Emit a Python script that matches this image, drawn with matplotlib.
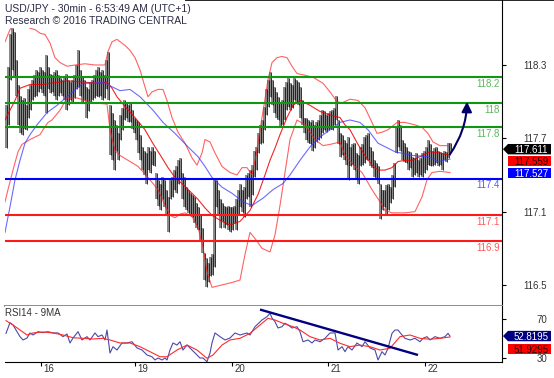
import numpy as np
import matplotlib
matplotlib.use("Agg")
import matplotlib.pyplot as plt
from matplotlib.patches import Polygon, Rectangle
from matplotlib.transforms import IdentityTransform

# 30min bars, high/low
highs = [117.97, 118.28, 118.55, 118.60, 118.57, 118.34, 118.14, 118.05, 118.01, 118.03,
         117.97, 118.10, 118.14, 118.18, 118.22, 118.26, 118.24, 118.28, 118.26, 118.24,
         118.38, 118.28, 118.23, 118.22, 118.24, 118.26, 118.22, 118.19, 118.18, 118.21,
         118.23, 118.18, 118.16, 118.18, 118.22, 118.30, 118.42, 118.26, 118.20, 118.18,
         118.12, 118.10, 118.16, 118.18, 118.22, 118.26, 118.28, 118.24, 118.26, 118.22,
         118.34, 118.41, 117.97, 117.91, 117.85, 117.81, 117.74, 117.89, 117.95, 118.01,
         118.00, 117.97, 117.99, 117.93, 117.87, 117.85, 117.83, 117.73, 117.63, 117.60,
         117.58, 117.63, 117.60, 117.63, 117.60, 117.42, 117.36, 117.33, 117.38, 117.36,
         117.28, 117.22, 117.36, 117.38, 117.44, 117.47, 117.52, 117.54, 117.42, 117.38,
         117.30, 117.28, 117.25, 117.24, 117.22, 117.17, 117.14, 117.07, 116.97, 116.76,
         116.72, 116.68, 116.73, 116.75, 117.36, 117.36, 117.28, 117.20, 117.17, 117.15,
         117.14, 117.15, 117.14, 117.14, 117.15, 117.20, 117.28, 117.33, 117.28, 117.30,
         117.40, 117.42, 117.44, 117.48, 117.60, 117.63, 117.74, 117.81, 117.85, 117.96,
         118.10, 118.18, 118.24, 118.18, 118.12, 118.08, 118.04, 117.99, 118.01, 118.12,
         118.16, 118.19, 118.15, 118.14, 118.19, 118.18, 118.16, 118.12, 118.01, 117.87,
         117.87, 117.85, 117.83, 117.85, 117.81, 117.83, 117.85, 117.89, 117.93, 117.92,
         117.89, 117.91, 117.92, 117.93, 117.95, 118.05, 117.85, 117.74, 117.73, 117.69,
         117.66, 117.71, 117.63, 117.65, 117.66, 117.58, 117.56, 117.63, 117.65, 117.71,
         117.73, 117.74, 117.63, 117.60, 117.52, 117.50, 117.47, 117.33, 117.28, 117.28,
         117.32, 117.33, 117.30, 117.40, 117.50, 117.79, 117.85, 117.81, 117.69, 117.66,
         117.63, 117.60, 117.59, 117.55, 117.54, 117.58, 117.52, 117.54, 117.58, 117.60,
         117.63, 117.69, 117.65, 117.60, 117.62, 117.63, 117.60, 117.59, 117.58, 117.60,
         117.59, 117.66, 117.66]
lows = [117.62, 117.81, 118.18, 118.26, 118.20, 118.05, 117.81, 117.74, 117.73, 117.78,
        117.77, 117.87, 117.93, 118.01, 118.04, 118.05, 118.08, 118.10, 118.07, 118.05,
        117.91, 118.10, 118.07, 118.08, 118.05, 118.01, 118.05, 118.07, 118.05, 118.01,
        117.93, 117.97, 118.01, 117.99, 118.03, 118.10, 118.12, 118.05, 117.99, 118.01,
        117.87, 117.92, 118.00, 118.01, 118.03, 118.05, 118.04, 118.05, 118.01, 118.03,
        118.10, 118.01, 117.56, 117.52, 117.44, 117.60, 117.52, 117.69, 117.77, 117.85,
        117.87, 117.83, 117.83, 117.78, 117.74, 117.69, 117.58, 117.52, 117.44, 117.40,
        117.33, 117.44, 117.42, 117.48, 117.47, 117.20, 117.15, 117.11, 117.20, 117.14,
        117.07, 116.93, 117.20, 117.22, 117.28, 117.25, 117.33, 117.36, 117.20, 117.14,
        117.11, 117.09, 117.07, 117.06, 117.01, 116.97, 116.95, 116.87, 116.76, 116.54,
        116.48, 116.52, 116.57, 116.58, 116.65, 117.14, 117.07, 116.97, 117.02, 116.97,
        116.99, 116.95, 116.93, 116.95, 117.01, 116.95, 117.07, 117.14, 117.10, 117.06,
        117.20, 117.22, 117.14, 117.24, 117.38, 117.44, 117.58, 117.65, 117.66, 117.77,
        117.89, 117.96, 118.04, 117.97, 117.91, 117.87, 117.85, 117.79, 117.81, 117.85,
        117.93, 117.96, 117.93, 117.95, 118.01, 117.99, 117.97, 117.87, 117.81, 117.74,
        117.69, 117.66, 117.65, 117.60, 117.62, 117.67, 117.69, 117.70, 117.74, 117.77,
        117.75, 117.77, 117.78, 117.77, 117.81, 117.85, 117.65, 117.55, 117.56, 117.52,
        117.48, 117.36, 117.47, 117.48, 117.44, 117.36, 117.33, 117.47, 117.48, 117.50,
        117.52, 117.52, 117.47, 117.46, 117.38, 117.36, 117.33, 117.04, 117.11, 117.14,
        117.07, 117.11, 117.17, 117.20, 117.30, 117.58, 117.63, 117.60, 117.52, 117.51,
        117.50, 117.44, 117.46, 117.38, 117.40, 117.42, 117.38, 117.40, 117.38, 117.42,
        117.44, 117.48, 117.47, 117.47, 117.48, 117.50, 117.47, 117.48, 117.44, 117.52,
        117.51, 117.54, 117.59]

# bollinger bands and moving average, sampled at bar index
up_x = [-0.5, 2, 4.5, 7, 9.5, 12, 14.5, 17, 19.5, 22, 24.5, 27, 30.5, 34.5, 39.5, 44.5, 49.5, 51, 53, 55.5,
        59.5, 62, 64.5, 67, 69.5, 71, 73, 76, 78.5, 80.5, 83, 86, 89.5, 93, 95.5, 98, 99.5, 102, 104.5, 108,
        112, 115.5, 118, 120.5, 123, 125, 127, 129, 131, 133, 135.5, 138, 140.5, 143, 145.5, 148.5, 153.5,
        158.5, 162, 165.5, 168, 172, 176, 179.5, 183, 185.5, 188, 191, 195.5, 199.5, 204.5, 208, 211, 213.5,
        217, 222]
up_v = [118.49, 118.59, 118.65, 118.68, 118.67, 118.60, 118.59, 118.56, 118.55, 118.48,
        118.36, 118.32, 118.29, 118.30, 118.31, 118.30, 118.30, 118.41, 118.49, 118.51,
        118.46, 118.42, 118.36, 118.26, 118.12, 118.04, 118.08, 118.10, 118.10, 118.01,
        117.87, 117.75, 117.66, 117.54, 117.48, 117.58, 117.69, 117.67, 117.58, 117.47,
        117.42, 117.40, 117.46, 117.46, 117.40, 117.56, 117.77, 117.97, 118.18, 118.32,
        118.36, 118.37, 118.36, 118.29, 118.23, 118.22, 118.20, 118.15, 118.08, 118.00,
        117.99, 118.02, 118.01, 117.95, 117.83, 117.74, 117.75, 117.77, 117.83, 117.83,
        117.81, 117.79, 117.74, 117.67, 117.64, 117.64]
mid_x = [-0.5, 2, 4.5, 7, 12, 18.5, 22, 27, 30.5, 38.5, 47, 50.5, 53, 55.5, 59.5, 64.5, 69.5, 73, 78, 81,
         84.5, 88, 93, 96, 99.5, 103, 108, 112, 117, 122, 126, 129.5, 132, 134.5, 137, 140.5, 143.5, 147,
         152, 157, 162, 167, 169.5, 172, 176, 179.5, 183, 186, 189.5, 193, 196, 199.5, 203, 207, 212, 217, 222]
mid_v = [117.85, 117.93, 118.01, 118.11, 118.14, 118.14, 118.15, 118.16, 118.17, 118.16,
         118.15, 118.16, 118.11, 118.04, 117.96, 117.87, 117.77, 117.67, 117.54, 117.46,
         117.38, 117.33, 117.25, 117.20, 117.13, 117.07, 117.02, 116.99, 117.02, 117.11,
         117.24, 117.40, 117.52, 117.62, 117.73, 117.87, 117.97, 118.01, 117.97, 117.92,
         117.89, 117.87, 117.81, 117.77, 117.65, 117.56, 117.48, 117.44, 117.44, 117.46,
         117.51, 117.52, 117.52, 117.55, 117.59, 117.58, 117.56]
lo_x = [-0.5, 1, 3.5, 6, 8, 12, 17, 18.5, 21, 23, 27, 30.5, 35.5, 39.5, 44.5, 50.5, 52, 54.5, 57, 61,
        66, 71, 76, 79.5, 82, 84.5, 87, 89.5, 93, 96, 98.5, 100.5, 103, 108, 113, 117, 119.5, 122, 124.5,
        128, 132, 134.5, 137, 139.5, 142, 145.5, 149.5, 154.5, 158.5, 162, 167, 169.5, 174.5, 178, 183,
        187, 189.5, 193, 199.5, 204.5, 208, 210.5, 213, 217, 222]
lo_v = [117.18, 117.28, 117.44, 117.59, 117.65, 117.69, 117.73, 117.77, 117.83, 117.85,
        117.93, 118.03, 118.03, 118.01, 117.99, 117.98, 117.77, 117.60, 117.56, 117.52,
        117.47, 117.38, 117.28, 117.15, 117.07, 117.05, 117.08, 117.09, 117.06, 116.97,
        116.81, 116.61, 116.48, 116.50, 116.52, 116.54, 116.75, 116.93, 116.88, 116.80,
        116.77, 116.91, 117.15, 117.42, 117.69, 117.85, 117.81, 117.69, 117.64, 117.65,
        117.67, 117.56, 117.47, 117.42, 117.28, 117.18, 117.11, 117.09, 117.09, 117.10,
        117.22, 117.36, 117.42, 117.43, 117.42]
ma_x = [-0.5, 2, 4.5, 7, 9.5, 12, 15.5, 20.5, 25.5, 30.5, 35.5, 38.5, 43.5, 48.5, 52, 57, 62, 67, 73.5,
        78.5, 84.5, 91, 96, 99.5, 103, 108, 113, 118.5, 123, 128.5, 133.5, 138.5, 142, 147, 152, 157, 162,
        167, 172, 177, 181, 186, 194.5, 203, 211, 216, 222]
ma_v = [116.93, 117.14, 117.36, 117.52, 117.66, 117.73, 117.81, 117.91, 117.97, 118.04,
        118.11, 118.15, 118.15, 118.16, 118.13, 118.09, 118.10, 118.04, 117.93, 117.83,
        117.74, 117.63, 117.55, 117.47, 117.38, 117.30, 117.25, 117.18, 117.15, 117.21,
        117.28, 117.33, 117.40, 117.52, 117.63, 117.71, 117.77, 117.83, 117.85, 117.83,
        117.77, 117.66, 117.59, 117.56, 117.55, 117.51, 117.53]

# RSI14 and its 9MA
rsi_x = [0, 2, 3.5, 5.5, 7, 8.5, 10.5, 12, 13.5, 16, 18.5, 21, 23.5, 26, 28.5, 30.5, 32, 33.5, 36, 38,
         40.5, 42, 44.5, 46, 48, 49.5, 50.5, 52, 53.5, 55.5, 58, 60.5, 63, 65.5, 68, 70.5, 73, 74.5, 76, 78,
         79.5, 80.5, 82, 83.5, 85.5, 87, 88.5, 90.5, 93, 95.5, 97, 98.5, 100.5, 102, 103, 104.5, 107, 109.5,
         112, 114.5, 117, 120.5, 122, 124.5, 128, 130.5, 132, 133, 134.5, 136, 138, 139.5, 141, 143, 145.5,
         147, 148.5, 151, 153, 154.5, 157, 159.5, 162, 164.5, 166, 168, 169.5, 171, 173, 175.5, 178, 179.5,
         182, 184.5, 186, 188, 189.5, 191, 193, 194.5, 196, 198, 199.5, 202, 204.5, 207, 208.5, 210.5, 212,
         214.5, 217, 219.5, 221, 222]
rsi_v = [55.6, 66.5, 64.2, 57.3, 52.2, 48.8, 50.8, 56.0, 53.9, 57.3, 56.3, 57.3, 56.0, 56.0, 52.2, 54.9,
         45.7, 50.8, 57.3, 48.8, 52.2, 48.8, 56.0, 52.2, 53.9, 48.8, 59.0, 35.4, 41.9, 38.5, 45.7, 45.7,
         47.0, 40.6, 38.5, 33.4, 31.6, 28.3, 30.3, 28.3, 30.3, 28.3, 38.5, 45.7, 43.6, 47.0, 38.5, 43.6,
         38.5, 33.4, 30.3, 30.3, 26.5, 35.4, 45.7, 56.0, 52.2, 48.8, 50.8, 56.0, 53.9, 56.0, 53.9, 62.4,
         69.3, 72.7, 76.2, 71.3, 67.5, 61.1, 62.4, 65.9, 64.2, 61.1, 62.4, 57.3, 47.0, 48.8, 45.7, 48.8,
         47.0, 50.5, 56.0, 56.0, 38.5, 41.9, 36.8, 41.9, 38.5, 45.7, 41.9, 47.0, 40.6, 38.5, 28.3, 36.8,
         33.4, 40.3, 55.6, 59.0, 59.0, 53.9, 50.5, 48.8, 50.5, 47.0, 50.5, 52.2, 48.8, 52.2, 50.5, 52.2,
         55.6, 52.8]
rsima_x = [0, 3.5, 7, 10.5, 13.5, 18.5, 23.5, 28.5, 33.5, 38.5, 43.5, 48.5, 52, 57, 62, 67, 72, 77, 80.5,
           85.5, 90.5, 95.5, 100.5, 103.5, 108, 112, 117, 122, 127, 131, 134.5, 138.5, 143.5, 147, 152, 157,
           162, 167, 172, 177, 182, 187, 192, 197, 202, 207, 212, 217, 222]
rsima_v = [68.6, 64.2, 59.0, 53.9, 56.0, 57.0, 56.0, 53.9, 51.1, 50.5, 49.8, 50.5, 48.8, 45.7, 45.7, 41.9,
           36.8, 31.6, 31.6, 38.5, 43.6, 38.5, 30.0, 33.4, 43.6, 48.8, 50.5, 55.6, 64.2, 71.0, 69.3, 65.9,
           62.4, 59.0, 52.2, 48.8, 50.5, 45.4, 41.9, 43.6, 41.9, 38.5, 40.3, 52.2, 53.9, 50.5, 49.5, 50.5, 51.9]
trend_x = [127, 206]
trend_v = [80.0, 33.4]

# key levels
levels = [118.20, 117.99, 117.79, 117.37, 117.07, 116.86]
level_labels = ["118.2", "118", "117.8", "117.4", "117.1", "116.9"]
level_colors = ["#109910", "#109910", "#109910", "#0000ff", "#ff1a1a", "#ff1a1a"]
label_colors = ["#5cb85c", "#5cb85c", "#5cb85c", "#5a5aff", "#ff5a5a", "#ff5a5a"]

arrow_x = [222, 230.5]
arrow_v = [117.57, 118.0]

day_pos = [17.5, 64.5, 113, 161, 209.5]
day_labels = ["16", "19", "20", "21", "22"]
price_ticks = [118.3, 117.7, 117.1, 116.5]
rsi_ticks = [70, 30]

last_close, last_mid, last_ma = 117.611, 117.559, 117.527
last_rsi, last_rsima = 52.8195, 51.9295

plt.rcParams["font.family"] = ["Liberation Sans", "DejaVu Sans"]
W, H = 554, 378
fig = plt.figure(figsize=(W / 100, H / 100), dpi=100)


def px_axes(left, top, right, bottom):
    return fig.add_axes([left / W, 1 - bottom / H, (right - left) / W, (bottom - top) / H])


ax = px_axes(5, 0, 502, 305.7)
ax_rsi = px_axes(5, 305.7, 502, 362.3)

# price bars: grey body with a thin black stroke
idx = np.arange(len(highs))
ax.vlines(idx, lows, highs, color="#8a8a8a", lw=1.45, zorder=2)
ax.vlines(idx + 0.25, lows, highs, color="#111111", lw=0.6, zorder=2)

ax.plot(up_x, up_v, color="#ff2020", lw=0.8, alpha=0.7, zorder=3)
ax.plot(lo_x, lo_v, color="#ff2020", lw=0.8, alpha=0.7, zorder=3)
ax.plot(mid_x, mid_v, color="#ee0000", lw=0.8, alpha=0.85, zorder=3)
ax.plot(ma_x, ma_v, color="#3a3aff", lw=0.8, alpha=0.75, zorder=3)

for lv, lab, c, lc in zip(levels, level_labels, level_colors, label_colors):
    ax.axhline(lv, color=c, lw=1.5, zorder=4)
    ax.annotate(lab, xy=(1, lv), xycoords=("axes fraction", "data"), xytext=(-1.5, -4.8),
                textcoords="offset points", ha="right", va="center", fontsize=7, color=lc)

ax.annotate("", xy=(arrow_x[1], arrow_v[1]), xytext=(arrow_x[0], arrow_v[0]),
            arrowprops=dict(arrowstyle="-|>,head_length=0.6,head_width=0.3", color="#000066", lw=1.5,
                            mutation_scale=10, shrinkA=0, shrinkB=0, connectionstyle="arc3,rad=0.15"),
            zorder=6)

ax.set_xlim(-0.5, 248)
ax.set_ylim(116.33, 118.832)
ax.yaxis.tick_right()
ax.set_yticks(price_ticks)
ax.set_yticklabels([f"{t:.1f}" for t in price_ticks])
ax.tick_params(axis="y", direction="out", length=3, width=0.8, pad=29.4, labelsize=7, labelcolor="#333333")
for t in ax.get_yticklabels():
    t.set_horizontalalignment("right")
ax.set_xticks([])
for s in ["left", "top"]:
    ax.spines[s].set_visible(False)
ax.spines["right"].set_linewidth(0.8)
ax.spines["bottom"].set_color("#8c8c8c")
ax.spines["bottom"].set_linewidth(1.4)

# RSI panel
ax_rsi.plot(rsi_x, rsi_v, color="#4a4aa8", lw=0.8)
ax_rsi.plot(rsima_x, rsima_v, color="#ff2a2a", lw=0.8)
ax_rsi.plot(trend_x, trend_v, color="#000080", lw=1.7, solid_capstyle="butt")
ax_rsi.set_xlim(-0.5, 248)
ax_rsi.set_ylim(25.9, 83.95)
ax_rsi.yaxis.tick_right()
ax_rsi.set_yticks(rsi_ticks)
ax_rsi.set_yticklabels([str(t) for t in rsi_ticks])
ax_rsi.tick_params(axis="y", direction="out", length=3, width=0.8, pad=29.4, labelsize=7, labelcolor="#333333")
for t in ax_rsi.get_yticklabels():
    t.set_horizontalalignment("right")
ax_rsi.set_xticks(day_pos)
ax_rsi.set_xticklabels([])
ax_rsi.tick_params(axis="x", direction="out", length=3, width=0.8)
for p, lab in zip(day_pos, day_labels):
    ax_rsi.annotate(lab, xy=(p, 0), xycoords=("data", "axes fraction"), xytext=(1.6, -4.8),
                    textcoords="offset points", ha="left", va="center", fontsize=7, color="#333333")
for s in ["left", "top"]:
    ax_rsi.spines[s].set_visible(False)
ax_rsi.spines["right"].set_linewidth(0.8)
ax_rsi.spines["bottom"].set_linewidth(0.8)


def tag(axis, value, text, fc, tc, drop=0, arrow=False):
    x0, y0 = axis.transData.transform((axis.get_xlim()[1], value))
    y0 -= drop
    h = 5.2
    if arrow:
        verts = [(x0 + 1, y0), (x0 + 6, y0 + h), (x0 + 49, y0 + h), (x0 + 49, y0 - h), (x0 + 6, y0 - h)]
    else:
        verts = [(x0 + 6, y0 + h), (x0 + 49, y0 + h), (x0 + 49, y0 - h), (x0 + 6, y0 - h)]
    fig.add_artist(Polygon(verts, closed=True, fc=fc, ec="none", transform=IdentityTransform(), zorder=5))
    fig.text(x0 + 29, y0, text, transform=IdentityTransform(), ha="center", va="center_baseline",
             fontsize=7, color=tc, zorder=6)


tag(ax, last_close, f"{last_close:.3f}", "black", "white", arrow=True)
tag(ax, last_close, f"{last_mid:.3f}", "#ff0000", "#200000", drop=12)
tag(ax, last_close, f"{last_ma:.3f}", "#0000ff", "white", drop=24)
tag(ax_rsi, last_rsi, f"{last_rsi:.4f}", "#000080", "white", arrow=True)
tag(ax_rsi, last_rsi, f"{last_rsima:.4f}", "#ff0000", "#200000", drop=13)

# header, drawn over the chart area
fig.add_artist(Rectangle((0, H - 28), 185, 28, transform=IdentityTransform(), fc="white", ec="none", zorder=5))
fig.text(5 / W, 1 - 9 / H, "USD/JPY - 30min - 6:53:49 AM (UTC+1)", fontsize=7.5, color="#2b2b45",
         va="center", zorder=6)
fig.text(5 / W, 1 - 21 / H, "Research \u00a9 2016 TRADING CENTRAL", fontsize=7.5, color="#2b2b45",
         va="center", zorder=6)
fig.text(5 / W, 1 - 313 / H, "RSI14 - 9MA", fontsize=7, color="#333333", va="center")
fig.add_artist(plt.Line2D([0, 1], [0.999, 0.999], color="black", lw=1.2, transform=fig.transFigure))

fig.savefig("out.png", dpi=100)
